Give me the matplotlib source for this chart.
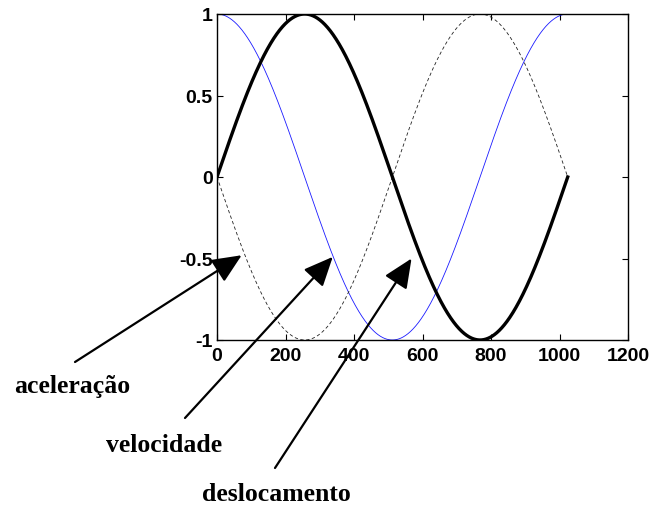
import numpy as np
import matplotlib
matplotlib.use("Agg")
import matplotlib.pyplot as plt

# signal: one period of a harmonic motion sampled at n_samples points
n_samples = 1024
amplitude = 1.0

labels = ["aceleração", "velocidade", "deslocamento"]
# arrow tips in data coords
tip_x = [72, 338, 568]
tip_y = [-0.48, -0.49, -0.50]
# arrow tails / label centers in figure pixels (from top-left)
tail_px = [(75, 363), (185, 419), (275, 469)]
label_px = [(72, 387), (164, 446), (276, 495)]

xticks = [0, 200, 400, 600, 800, 1000, 1200]
yticks = [-1, -0.5, 0, 0.5, 1]

n = np.arange(n_samples + 1)
phase = 2 * np.pi * n / n_samples
desloc = amplitude * np.sin(phase)
veloc = amplitude * np.cos(phase)
acel = -amplitude * np.sin(phase)

W, H = 650, 510
fig = plt.figure(figsize=(W / 100, H / 100), dpi=100)
ax = fig.add_axes([217 / W, 1 - 341 / H, (628 - 217) / W, (341 - 15) / H])

ax.plot(n, veloc, color="#1a1aff", lw=0.6)
ax.plot(n, acel, color="#222222", lw=0.6, ls=(0, (4, 3)))
ax.plot(n, desloc, color="black", lw=2.4)

ax.set_xlim(0, 1200)
ax.set_ylim(-1, 1)
ax.set_xticks(xticks)
ax.set_yticks(yticks)
ax.set_xticklabels([str(t) for t in xticks])
ax.set_yticklabels(["-1", "-0.5", "0", "0.5", "1"])
ax.tick_params(direction="in", length=4, top=True, right=True,
               labelsize=14)
ax.tick_params(axis="x", pad=5)
ax.tick_params(axis="y", pad=3)
for lab in ax.get_xticklabels() + ax.get_yticklabels():
    lab.set_fontweight("bold")
    lab.set_family("Liberation Sans")
for s in ax.spines.values():
    s.set_linewidth(1.0)

for lab, tx, ty, tail, lp in zip(labels, tip_x, tip_y, tail_px, label_px):
    ax.annotate("", xy=(tx, ty), xycoords="data",
                xytext=(tail[0] / W, 1 - tail[1] / H), textcoords="figure fraction",
                arrowprops=dict(arrowstyle="-|>,head_length=0.9,head_width=0.4",
                                color="black", lw=1.6, mutation_scale=20,
                                shrinkA=0, shrinkB=0),
                annotation_clip=False)
    fig.text(lp[0] / W, 1 - lp[1] / H, lab, ha="center", va="center",
             family="Liberation Serif", fontweight="bold", fontsize=18.5)

fig.savefig("out.png", dpi=100)
